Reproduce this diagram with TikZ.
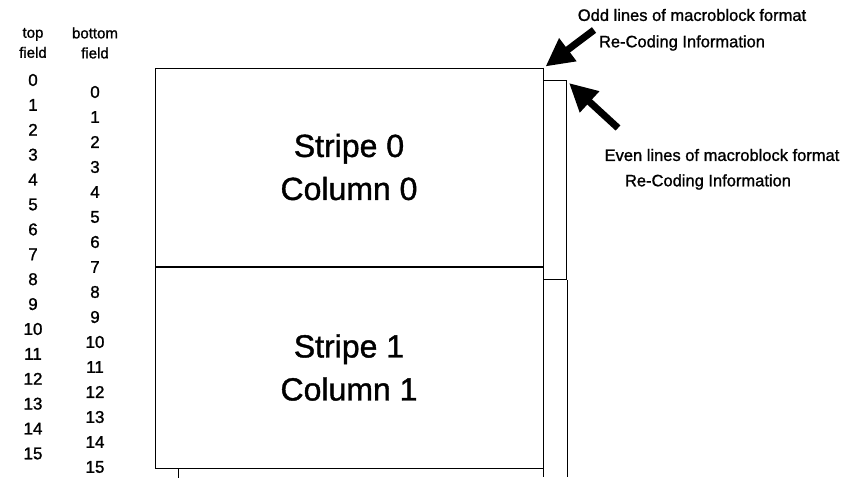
\documentclass[tikz,border=0pt]{standalone}
\usepackage{fontspec}
\setmainfont[FakeBold=1.2]{Liberation Sans}
\usetikzlibrary{positioning, arrows.meta}

\begin{document}
\begin{tikzpicture}[
    x=1pt, y=-1pt,
    line width=1pt,
    stripe/.style={draw, minimum width=388pt, align=center, inner sep=0pt, font=\fontsize{32}{43}\selectfont},
    head/.style={align=center, font=\fontsize{15}{20}\selectfont},
    num/.style={font=\fontsize{17}{20}\selectfont},
    note/.style={font=\fontsize{16.5}{20}\selectfont},
    pointer/.style={line width=7pt, -{Triangle[length=28pt,width=27pt]}}
]
    \useasboundingbox (0,0) rectangle (854,477);

    % Field headings and line numbers
    \node[head] (tophead) at (33,43) {top\\field};
    \node[head] (bothead) at (95,43) {bottom\\field};
    \foreach \i in {0,...,15} {
        \node[num] (top\i) at (33,80+24.9*\i) {\i};
        \node[num] (bot\i) at (95,92+25*\i) {\i};
    }

    % Stripes
    \node[stripe, minimum height=198pt] (stripe0) at (349,167) {Stripe 0\\Column 0};
    \node[stripe, minimum height=201pt, below=0pt of stripe0] (stripe1) {Stripe 1\\Column 1};
    \draw (stripe1.south west) ++(24,0) coordinate (nextblk) -- ++(0,10);

    % Re-coding information strip
    \node[draw, minimum width=23pt, minimum height=199pt, inner sep=0pt, anchor=north west] (evenstrip) at (543,80) {};
    \draw (stripe0.north east) -- (stripe0.north east |- 0,477);
    \draw (evenstrip.south east) -- (evenstrip.east |- 0,477);

    % Labels
    \node[note] (oddlbl) at (692,15) {Odd lines of macroblock format};
    \node[note] (oddlbl2) at (682,43) {Re-Coding Information};
    \node[note] (evenlbl) at (722,155) {Even lines of macroblock format};
    \node[note] (evenlbl2) at (708,182) {Re-Coding Information};

    % Pointers
    \coordinate (oddtail) at (594,30);
    \coordinate (eventail) at (618,128);
    \draw[pointer] (oddtail) -- ([shift={(2,-1)}]stripe0.north east);
    \draw[pointer] (eventail) -- ([shift={(2,3)}]evenstrip.north east);
\end{tikzpicture}
\end{document}
